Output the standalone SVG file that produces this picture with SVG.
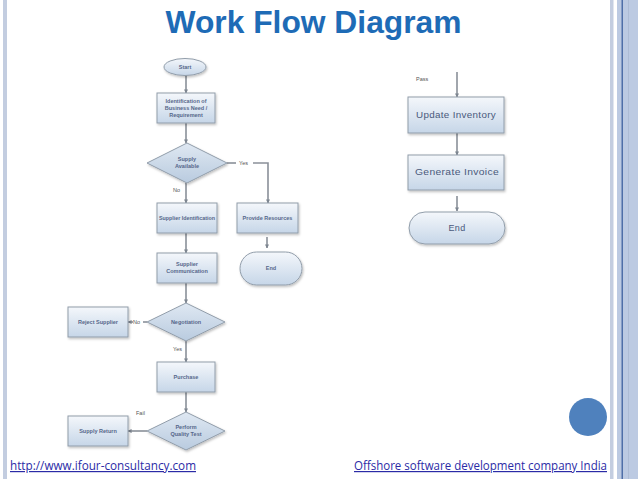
<svg xmlns="http://www.w3.org/2000/svg" width="638" height="479" viewBox="0 0 638 479">
<defs>
<linearGradient id="g" x1="0" y1="0" x2="0" y2="1">
<stop offset="0" stop-color="#f4f7fb"/>
<stop offset="1" stop-color="#c6d6e8"/>
</linearGradient>
<linearGradient id="gd" x1="0" y1="0" x2="0" y2="1">
<stop offset="0" stop-color="#dfe8f2"/>
<stop offset="1" stop-color="#b9cbdf"/>
</linearGradient>
<filter id="sh" x="-20%" y="-20%" width="150%" height="160%">
<feDropShadow dx="1" dy="1.5" stdDeviation="1" flood-color="#000" flood-opacity="0.25"/>
</filter>
<marker id="ah" viewBox="0 0 10 10" refX="9" refY="5" markerWidth="4" markerHeight="4" orient="auto" markerUnits="userSpaceOnUse">
<path d="M0,0 L10,5 L0,10 z" fill="#7d8590"/>
</marker>
</defs>
<style>
.n{fill:url(#g);stroke:#919daa;stroke-width:1;filter:url(#sh)}
.d{fill:url(#gd);stroke:#919daa;stroke-width:1;filter:url(#sh)}
.t{font-family:"Liberation Sans",Arial,sans-serif;font-size:5.5px;font-weight:bold;fill:#56678a;text-anchor:middle}
.T{font-family:"Liberation Sans",Arial,sans-serif;font-size:9px;fill:#4a5a7c;text-anchor:middle;letter-spacing:0.3px}
.l{font-family:"Liberation Sans",Arial,sans-serif;font-size:5.5px;fill:#555}
.c{fill:none;stroke:#8a9099;stroke-width:1.6}
.f{font-family:"Open Sans","Liberation Sans",sans-serif;font-size:12px;fill:#2b2ba6;text-decoration:underline}
</style>
<rect x="0" y="0" width="638" height="479" fill="#ffffff"/>
<rect x="3" y="0" width="4" height="479" fill="#c3cde0"/>
<rect x="610" y="0" width="3.5" height="479" fill="#c3cde0"/>
<rect x="617" y="0" width="21" height="479" fill="#bccae2"/>
<rect x="621.5" y="0" width="1.5" height="479" fill="#4f6fa8"/>
<rect x="628" y="0" width="0.8" height="479" fill="#a9b8d2"/>
<text x="313.5" y="33" font-family="Liberation Sans,Arial,sans-serif" font-weight="bold" font-size="32" fill="#1e6bb6" text-anchor="middle" textLength="296" lengthAdjust="spacingAndGlyphs">Work Flow Diagram</text>
<g id="connectors">
<line class="c" x1="186" y1="75" x2="186" y2="93" marker-end="url(#ah)"/>
<line class="c" x1="186" y1="123" x2="186" y2="143" marker-end="url(#ah)"/>
<line class="c" x1="186" y1="183" x2="186" y2="203" marker-end="url(#ah)"/>
<polyline class="c" points="227,163 236,163"/>
<polyline class="c" points="253,163 268,163 268,203" marker-end="url(#ah)"/>
<line class="c" x1="186" y1="233" x2="186" y2="253" marker-end="url(#ah)"/>
<line class="c" x1="267" y1="237" x2="267" y2="248" marker-end="url(#ah)"/>
<line class="c" x1="186" y1="283" x2="186" y2="303" marker-end="url(#ah)"/>
<line class="c" x1="147" y1="322" x2="143" y2="322"/>
<line class="c" x1="133" y1="322" x2="128" y2="322" marker-end="url(#ah)"/>
<line class="c" x1="186" y1="341" x2="186" y2="362" marker-end="url(#ah)"/>
<line class="c" x1="186" y1="392" x2="186" y2="412" marker-end="url(#ah)"/>
<line class="c" x1="147" y1="431" x2="128" y2="431" marker-end="url(#ah)"/>
<line class="c" x1="457" y1="72" x2="457" y2="97" marker-end="url(#ah)"/>
<line class="c" x1="457" y1="133" x2="457" y2="155" marker-end="url(#ah)"/>
<line class="c" x1="457" y1="196" x2="457" y2="211" marker-end="url(#ah)"/>
<text class="l" x="239" y="165">Yes</text>
<text class="l" x="173" y="192">No</text>
<text class="l" x="133" y="324">No</text>
<text class="l" x="173" y="351">Yes</text>
<text class="l" x="136" y="415">Fail</text>
<text class="l" x="416" y="81" font-size="6.5">Pass</text>
</g>
<g id="start"><ellipse class="n" cx="185" cy="67" rx="21" ry="8.5"/><text class="t" x="185" y="69">Start</text></g>
<g id="identification"><rect class="n" x="157" y="93" width="58" height="30"/><text class="t" x="186" y="103">Identification of</text><text class="t" x="186" y="110">Business Need /</text><text class="t" x="186" y="117">Requirement</text></g>
<g id="supply-available"><polygon class="d" points="187,143 227,163 187,183 147,163"/><text class="t" x="187" y="161">Supply</text><text class="t" x="187" y="168">Available</text></g>
<g id="supplier-identification"><rect class="n" x="157" y="203" width="60" height="30"/><text class="t" x="187" y="220" textLength="56" lengthAdjust="spacingAndGlyphs">Supplier Identification</text></g>
<g id="provide-resources"><rect class="n" x="237" y="203" width="61" height="30"/><text class="t" x="267.5" y="220">Provide Resources</text></g>
<g id="end-left"><rect class="n" x="240" y="252" width="62" height="33" rx="16.5"/><text class="t" x="271" y="270">End</text></g>
<g id="supplier-communication"><rect class="n" x="157" y="253" width="60" height="30"/><text class="t" x="187" y="266">Supplier</text><text class="t" x="187" y="273">Communication</text></g>
<g id="negotiation"><polygon class="d" points="186,303 225,322 186,341 147,322"/><text class="t" x="186" y="324">Negotiation</text></g>
<g id="reject-supplier"><rect class="n" x="68" y="307" width="60" height="30"/><text class="t" x="98" y="324">Reject Supplier</text></g>
<g id="purchase"><rect class="n" x="157" y="362" width="58" height="30"/><text class="t" x="186" y="379">Purchase</text></g>
<g id="quality-test"><polygon class="d" points="186,412 225,431 186,450 147,431"/><text class="t" x="186" y="429">Perform</text><text class="t" x="186" y="436">Quality Test</text></g>
<g id="supply-return"><rect class="n" x="68" y="416" width="60" height="30"/><text class="t" x="98" y="433">Supply Return</text></g>
<g id="update-inventory"><rect class="n" x="408" y="97" width="96" height="36"/><text class="T" x="456" y="118" textLength="80" lengthAdjust="spacingAndGlyphs">Update Inventory</text></g>
<g id="generate-invoice"><rect class="n" x="408" y="155" width="96" height="35"/><text class="T" x="457" y="175" textLength="84" lengthAdjust="spacingAndGlyphs">Generate Invoice</text></g>
<g id="end-right"><rect class="n" x="409" y="212" width="96" height="32" rx="16"/><text class="T" x="457" y="231">End</text></g>
<circle cx="588" cy="417" r="19" fill="#4f81bd"/>
<text class="f" x="10" y="470" textLength="186" lengthAdjust="spacingAndGlyphs">http://www.ifour-consultancy.com</text>
<text class="f" x="354" y="470" textLength="253" lengthAdjust="spacingAndGlyphs">Offshore software development company India</text>
</svg>
